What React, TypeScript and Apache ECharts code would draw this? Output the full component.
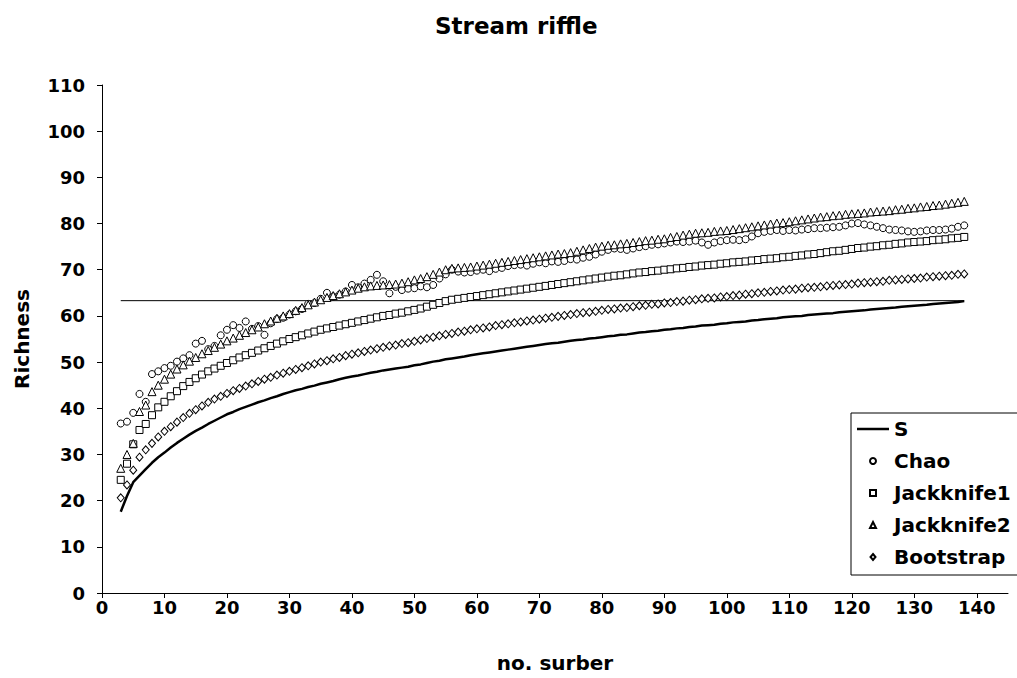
import React, { useEffect, useRef } from "react";
import * as echarts from "echarts";

const FONT = "'DejaVu Sans', Arial, sans-serif";

// number of surber samples (x), 3..138
const surberCount: number[] = Array.from({ length: 136 }, (_, i) => i + 3);

const xTicks = [0, 10, 20, 30, 40, 50, 60, 70, 80, 90, 100, 110, 120, 130, 140];
const yTicks = [0, 10, 20, 30, 40, 50, 60, 70, 80, 90, 100, 110];

// observed total richness reference line
const observedTotal = 63.3;
const refLineX = [3, 138];

const sObs = [
  17.6, 21.0, 24.0, 25.4, 26.8, 28.2, 29.4, 30.4, 31.5, 32.5, 33.4, 34.3, 35.1, 35.8, 36.6, 37.3, 38.0, 38.7,
  39.2, 39.8, 40.3, 40.8, 41.3, 41.7, 42.2, 42.6, 43.1, 43.5, 43.9, 44.2, 44.6, 44.9, 45.3, 45.6, 45.9, 46.3,
  46.6, 46.9, 47.1, 47.4, 47.7, 47.9, 48.2, 48.4, 48.6, 48.8, 49.0, 49.3, 49.5, 49.8, 50.1, 50.3, 50.6, 50.8,
  51.0, 51.2, 51.5, 51.7, 51.9, 52.1, 52.3, 52.5, 52.7, 52.9, 53.1, 53.3, 53.5, 53.7, 53.9, 54.1, 54.2, 54.4,
  54.6, 54.8, 54.9, 55.1, 55.2, 55.4, 55.6, 55.7, 55.9, 56.0, 56.2, 56.4, 56.5, 56.7, 56.8, 57.0, 57.1, 57.3,
  57.4, 57.6, 57.7, 57.9, 58.0, 58.1, 58.3, 58.4, 58.6, 58.7, 58.8, 59.0, 59.1, 59.3, 59.4, 59.5, 59.7, 59.8,
  59.9, 60.0, 60.2, 60.3, 60.4, 60.5, 60.6, 60.8, 60.9, 61.0, 61.1, 61.2, 61.4, 61.5, 61.6, 61.7, 61.8, 62.0,
  62.1, 62.2, 62.3, 62.4, 62.6, 62.7, 62.8, 62.9, 63.0, 63.2,
];

const chao = [
  36.7, 37.1, 39.0, 43.1, 41.4, 47.4, 48.0, 48.7, 49.2, 50.1, 50.8, 51.5, 54.0, 54.6, 52.8, 53.5, 55.8, 57.0,
  58.0, 57.4, 58.8, 57.2, 57.8, 55.9, 58.4, 59.3, 59.6, 60.3, 61.0, 61.5, 62.6, 62.8, 63.7, 65.0, 64.2, 64.6,
  65.3, 66.7, 66.2, 67.0, 67.8, 68.9, 67.5, 64.9, 66.3, 65.6, 65.9, 66.0, 66.4, 66.2, 66.7, 68.1, 69.0, 70.0,
  69.6, 69.4, 69.5, 69.8, 70.0, 69.7, 70.2, 70.4, 70.8, 71.0, 71.1, 70.9, 71.3, 71.6, 71.4, 71.8, 71.7, 71.9,
  72.3, 72.2, 72.6, 72.8, 73.3, 73.9, 74.3, 74.6, 74.5, 74.3, 74.6, 74.9, 75.1, 75.4, 75.5, 75.7, 75.9, 76.1,
  76.0, 76.1, 76.3, 75.9, 75.4, 75.9, 76.2, 76.4, 76.5, 76.4, 76.6, 77.2, 77.9, 78.2, 78.4, 78.6, 78.4, 78.6,
  78.5, 78.7, 78.8, 79.0, 79.0, 79.1, 79.2, 79.3, 79.6, 80.0, 80.1, 79.8, 79.6, 79.3, 79.0, 78.7, 78.6, 78.5,
  78.3, 78.2, 78.3, 78.5, 78.6, 78.6, 78.7, 78.9, 79.3, 79.6,
];

const jack1 = [
  24.5, 28.0, 32.2, 35.3, 36.6, 38.5, 40.2, 41.4, 42.6, 43.7, 44.8, 45.7, 46.5, 47.3, 48.0, 48.6, 49.2, 49.8,
  50.4, 51.0, 51.5, 52.0, 52.5, 53.0, 53.5, 54.0, 54.5, 55.0, 55.4, 55.8, 56.2, 56.6, 57.0, 57.3, 57.6, 57.9,
  58.2, 58.5, 58.8, 59.1, 59.4, 59.7, 60.0, 60.2, 60.5, 60.7, 61.0, 61.3, 61.6, 62.0, 62.4, 62.8, 63.2, 63.5,
  63.7, 63.9, 64.1, 64.3, 64.5, 64.7, 64.9, 65.1, 65.3, 65.5, 65.7, 65.9, 66.1, 66.3, 66.5, 66.7, 66.9, 67.1,
  67.3, 67.5, 67.7, 67.9, 68.1, 68.3, 68.5, 68.7, 68.8, 69.0, 69.2, 69.4, 69.5, 69.7, 69.8, 70.0, 70.1, 70.3,
  70.4, 70.6, 70.7, 70.9, 71.0, 71.1, 71.3, 71.4, 71.6, 71.7, 71.8, 72.0, 72.1, 72.3, 72.4, 72.5, 72.7, 72.8,
  73.0, 73.1, 73.3, 73.4, 73.6, 73.8, 74.0, 74.1, 74.3, 74.5, 74.7, 74.8, 75.0, 75.1, 75.3, 75.4, 75.6, 75.7,
  75.9, 76.0, 76.1, 76.2, 76.4, 76.5, 76.6, 76.8, 76.9, 77.1,
];

const jack2 = [
  27.0, 30.0, 32.4, 39.3, 40.7, 43.6, 45.0, 46.3, 47.4, 48.5, 49.4, 50.2, 51.0, 51.8, 52.5, 53.2, 53.9, 54.6,
  55.2, 55.8, 56.4, 57.0, 57.6, 58.3, 58.9, 59.5, 60.0, 60.5, 61.2, 61.8, 62.4, 63.0, 63.5, 64.0, 64.4, 64.8,
  65.2, 65.6, 66.0, 66.3, 66.5, 66.6, 66.7, 66.8, 66.9, 67.1, 67.4, 67.8, 68.1, 68.5, 69.0, 69.5, 70.0, 70.3,
  70.4, 70.5, 70.6, 70.8, 71.0, 71.2, 71.4, 71.6, 71.8, 72.0, 72.2, 72.4, 72.6, 72.8, 73.0, 73.2, 73.4, 73.5,
  73.7, 74.0, 74.3, 74.6, 74.9, 75.1, 75.3, 75.4, 75.6, 75.7, 75.9, 76.1, 76.3, 76.4, 76.6, 76.7, 77.0, 77.2,
  77.5, 77.7, 77.9, 78.0, 78.1, 78.3, 78.4, 78.5, 78.7, 78.9, 79.1, 79.3, 79.5, 79.7, 79.9, 80.1, 80.2, 80.4,
  80.6, 80.8, 81.0, 81.2, 81.4, 81.5, 81.7, 81.8, 82.0, 82.1, 82.2, 82.3, 82.5, 82.6, 82.7, 82.8, 83.0, 83.1,
  83.3, 83.4, 83.6, 83.7, 83.9, 84.0, 84.2, 84.4, 84.6, 84.8,
];

const bootstrap = [
  20.6, 23.4, 26.6, 29.4, 31.0, 32.4, 33.8, 35.0, 36.0, 37.0, 38.0, 38.9, 39.7, 40.5, 41.3, 42.0, 42.6, 43.2,
  43.8, 44.3, 44.8, 45.3, 45.8, 46.3, 46.7, 47.2, 47.6, 48.0, 48.4, 48.8, 49.2, 49.6, 50.0, 50.3, 50.7, 51.0,
  51.4, 51.7, 52.0, 52.3, 52.6, 52.9, 53.2, 53.5, 53.7, 54.0, 54.2, 54.5, 54.8, 55.1, 55.4, 55.7, 56.0, 56.2,
  56.5, 56.7, 57.0, 57.2, 57.4, 57.6, 57.9, 58.1, 58.3, 58.5, 58.7, 58.9, 59.1, 59.3, 59.5, 59.7, 59.9, 60.1,
  60.3, 60.5, 60.7, 60.8, 61.0, 61.2, 61.4, 61.5, 61.7, 61.8, 62.0, 62.2, 62.3, 62.5, 62.6, 62.8, 62.9, 63.1,
  63.2, 63.4, 63.5, 63.7, 63.8, 63.9, 64.1, 64.2, 64.4, 64.5, 64.7, 64.8, 65.0, 65.1, 65.3, 65.4, 65.6, 65.7,
  65.8, 66.0, 66.1, 66.2, 66.3, 66.5, 66.6, 66.7, 66.8, 66.9, 67.1, 67.2, 67.3, 67.4, 67.5, 67.7, 67.8, 67.9,
  68.0, 68.1, 68.2, 68.4, 68.5, 68.6, 68.7, 68.8, 69.0, 69.1,
];

const pairs = (ys: number[]) => surberCount.map((x, i) => [x, ys[i]]);

const markerSeries = (name: string, symbol: string, size: number | number[], ys: number[]) => ({
  name,
  type: "scatter",
  symbol,
  symbolSize: size,
  data: pairs(ys),
  itemStyle: { color: "#ffffff", borderColor: "#000000", borderWidth: 1, opacity: 1 },
  z: 3,
});

export default function App() {
  const ref = useRef<HTMLDivElement>(null);
  useEffect(() => {
    if (!ref.current) return;
    const chart = echarts.init(ref.current, undefined, { renderer: "svg" });
    const labelStyle = { fontFamily: FONT, fontWeight: "bold", fontSize: 18, color: "#000" };
    const nameStyle = { fontFamily: FONT, fontWeight: "bold", fontSize: 20, color: "#000" };
    chart.setOption({
      animation: false,
      backgroundColor: "#ffffff",
      title: {
        text: "Stream riffle",
        left: 430,
        top: 9,
        textStyle: { fontFamily: FONT, fontWeight: "bold", fontSize: 23, color: "#000" },
      },
      grid: { left: 102, top: 85, width: 906, height: 508 },
      legend: {
        orient: "vertical",
        left: 851,
        top: 413,
        padding: [6, 60, 8, 6],
        itemGap: 12,
        itemWidth: 32,
        itemHeight: 6,
        backgroundColor: "#ffffff",
        borderColor: "#000000",
        borderWidth: 1,
        selectedMode: false,
        data: [
          { name: "S", icon: "path://M0,0 L32,0 L32,2.5 L0,2.5 Z" },
          { name: "Chao", icon: "circle" },
          { name: "Jackknife1", icon: "path://M0,0 L10,0 L10,10 L0,10 Z" },
          { name: "Jackknife2", icon: "path://M5,0 L10,10 L0,10 Z" },
          { name: "Bootstrap", icon: "path://M5,0 L10,6 L5,12 L0,6 Z" },
        ],
        textStyle: { fontFamily: FONT, fontWeight: "bold", fontSize: 20, color: "#000" },
      },
      xAxis: {
        type: "value",
        min: 0,
        max: 145,
        interval: 10,
        name: "no. surber",
        nameLocation: "middle",
        nameGap: 60,
        nameTextStyle: nameStyle,
        axisLine: { show: true, onZero: false, lineStyle: { color: "#000", width: 1 } },
        axisTick: { show: true, length: 5, customValues: xTicks, lineStyle: { color: "#000", width: 1 } },
        axisLabel: { customValues: xTicks, margin: 5, ...labelStyle },
        splitLine: { show: false },
      },
      yAxis: {
        type: "value",
        min: 0,
        max: 110,
        interval: 10,
        name: "Richness",
        nameLocation: "middle",
        nameGap: 70,
        nameTextStyle: nameStyle,
        axisLine: { show: true, lineStyle: { color: "#000", width: 1 } },
        axisTick: { show: true, length: 5, customValues: yTicks, lineStyle: { color: "#000", width: 1 } },
        axisLabel: { customValues: yTicks, margin: 17, ...labelStyle },
        splitLine: { show: false },
      },
      series: [
        {
          name: "observed",
          type: "line",
          symbol: "none",
          silent: true,
          data: refLineX.map((x) => [x, observedTotal]),
          lineStyle: { color: "#000", width: 1 },
          z: 1,
        },
        {
          name: "S",
          type: "line",
          symbol: "none",
          data: pairs(sObs),
          lineStyle: { color: "#000", width: 2.5 },
          itemStyle: { color: "#000" },
          z: 2,
        },
        markerSeries("Chao", "circle", 7, chao),
        markerSeries("Jackknife1", "rect", 7, jack1),
        markerSeries("Jackknife2", "triangle", 8, jack2),
        markerSeries("Bootstrap", "diamond", [7, 8], bootstrap),
      ],
    });
    return () => chart.dispose();
  }, []);
  return (
    <div
      ref={ref}
      style={{ position: "fixed", left: 0, top: 0, width: 1017, height: 678, background: "#fff" }}
    />
  );
}
